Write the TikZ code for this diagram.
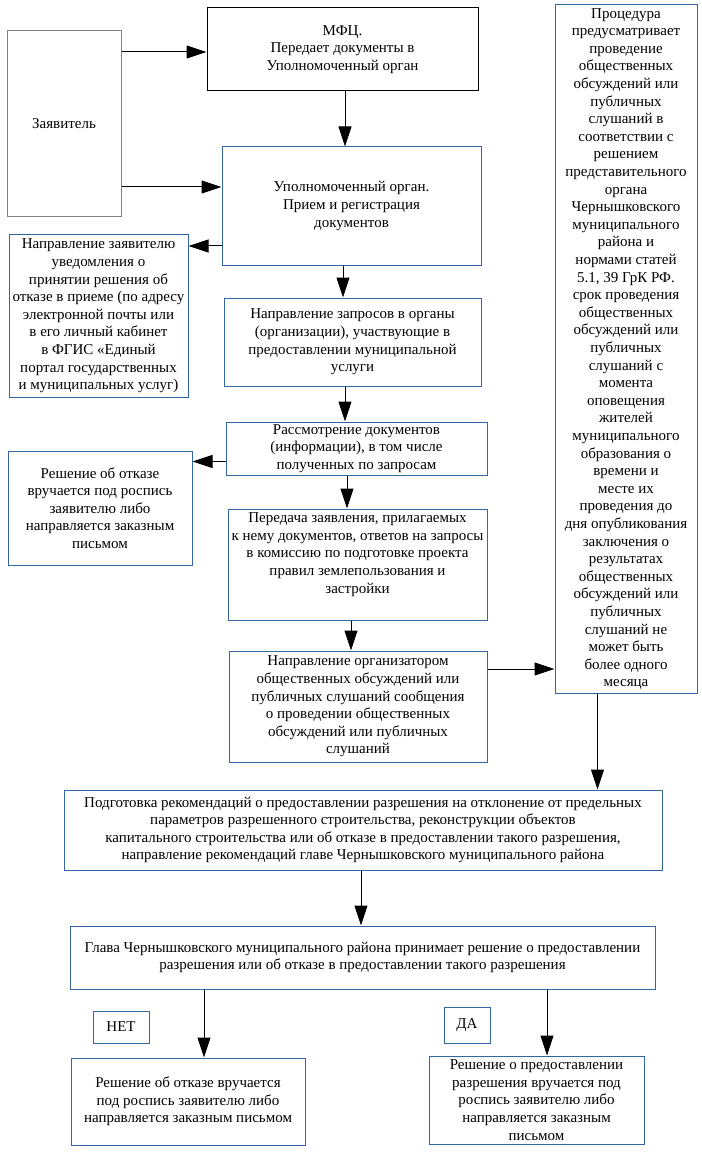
\documentclass[tikz,border=0pt]{standalone}
\usepackage{fontspec}
\setmainfont{Liberation Serif}
\usetikzlibrary{arrows.meta,calc}
\definecolor{bblue}{HTML}{3465A4}
\definecolor{bgray}{HTML}{808080}
\tikzset{
 base/.style={draw, inner sep=0pt, align=center, font=\fontsize{15pt}{17.6pt}\selectfont, line width=1pt},
 bluebox/.style={base, draw=bblue},
 blackbox/.style={base, draw=black},
 graybox/.style={base, draw=bgray},
 arr/.style={-{Triangle[length=20pt,width=13pt]}, line width=1pt},
}
\newcommand\mybox[7]{\node[#6, minimum width={(#4-#2)*1pt}, minimum height={(#5-#3)*1pt}] (#1) at ({(#2+#4)/2},{(#3+#5)/2}) {#7};}
\begin{document}
\begin{tikzpicture}[x=1pt,y=-1pt]
\useasboundingbox (0,0) rectangle (701,1158);
\mybox{zav}{7}{31}{121}{217}{graybox}{Заявитель}
\mybox{mfc}{207}{8}{478}{91}{blackbox}{МФЦ.\\Передает документы в\\Уполномоченный орган}
\mybox{upo}{222}{147}{481}{265}{bluebox}{Уполномоченный орган.\\Прием и регистрация\\документов}
\mybox{napz}{9}{235}{188}{397}{bluebox}{Направление заявителю\\уведомления о\\принятии решения об\\отказе в приеме (по адресу\\электронной почты или\\в его личный кабинет\\в ФГИС «Единый\\портал государственных\\и муниципальных услуг)}
\mybox{zap}{224}{298}{481}{386}{bluebox}{Направление запросов в органы\\(организации), участвующие в\\предоставлении муниципальной\\услуги}
\mybox{ras}{226}{422}{487}{475}{bluebox}{Рассмотрение документов\\(информации), в том числе\\полученных по запросам}
\mybox{otk}{8}{451}{192}{565}{bluebox}{Решение об отказе\\вручается под роспись\\заявителю либо\\направляется заказным\\письмом}
\mybox{per}{228}{509}{487}{620}{bluebox}{Передача заявления, прилагаемых\\к нему документов, ответов на запросы\\в комиссию по подготовке проекта\\правил землепользования и\\застройки\\\strut}
\mybox{org}{229}{651}{487}{762}{bluebox}{Направление организатором\\общественных обсуждений или\\публичных слушаний сообщения\\о проведении общественных\\обсуждений или публичных\\слушаний}
\mybox{proc}{555}{5}{697}{693}{bluebox}{Процедура\\предусматривает\\проведение\\общественных\\обсуждений или\\публичных\\слушаний в\\соответствии с\\решением\\представительного\\органа\\Чернышковского\\муниципального\\района и\\нормами статей\\5.1, 39 ГрК РФ.\\срок проведения\\общественных\\обсуждений или\\публичных\\слушаний с\\момента\\оповещения\\жителей\\муниципального\\образования о\\времени и\\месте их\\проведения до\\дня опубликования\\заключения о\\результатах\\общественных\\обсуждений или\\публичных\\слушаний не\\может быть\\более одного\\месяца}
\mybox{pod}{64}{790}{662}{870}{bluebox}{Подготовка рекомендаций о предоставлении разрешения на отклонение от предельных\\параметров разрешенного строительства, реконструкции объектов\\капитального строительства или об отказе в предоставлении такого разрешения,\\направление рекомендаций главе Чернышковского муниципального района}
\mybox{gl}{70}{926}{655}{989}{bluebox}{Глава Чернышковского муниципального района принимает решение о предоставлении\\разрешения или об отказе в предоставлении такого разрешения}
\mybox{net}{93}{1011}{149}{1043}{bluebox}{НЕТ}
\mybox{da}{444}{1007}{490}{1043}{bluebox}{ДА}
\mybox{rl}{71}{1058}{305}{1145}{bluebox}{Решение об отказе вручается\\под роспись заявителю либо\\направляется заказным письмом}
\mybox{rr}{429}{1056}{644}{1144}{bluebox}{Решение о предоставлении\\разрешения вручается под\\роспись заявителю либо\\направляется заказным\\письмом}
\coordinate (c1) at ([yshift=-2.5pt]mfc.west);
\draw[arr] (c1 -| zav.east) -- (c1);
\coordinate (c2) at ([yshift=-63pt]zav.east);
\draw[arr] (c2) -- (c2 -| upo.west);
\coordinate (c3) at ([xshift=2.5pt]mfc.south);
\draw[arr] (c3) -- (c3 |- upo.north);
\coordinate (c4) at ([yshift=-40pt]upo.west);
\draw[arr] (c4) -- (c4 -| napz.east);
\coordinate (c5) at ([xshift=-8.5pt]upo.south);
\draw[arr] (c5) -- (c5 |- zap.north);
\coordinate (c6) at ([xshift=-7.5pt]zap.south);
\draw[arr] (c6) -- (c6 |- ras.north);
\coordinate (c7) at ([yshift=-13pt]ras.west);
\draw[arr] (c7) -- (c7 -| otk.east);
\coordinate (c8) at ([xshift=-9.5pt]ras.south);
\draw[arr] (c8) -- (c8 |- per.north);
\coordinate (c9) at ([xshift=-6.5pt]per.south);
\draw[arr] (c9) -- (c9 |- org.north);
\coordinate (c10) at ([yshift=37.5pt]org.east);
\draw[arr] (c10) -- (c10 -| proc.west);
\coordinate (c11) at ([xshift=-28.5pt]proc.south);
\draw[arr] (c11) -- (c11 |- pod.north);
\coordinate (c12) at ([xshift=-2pt]pod.south);
\draw[arr] (c12) -- (c12 |- gl.north);
\coordinate (c13) at ([xshift=16pt]rl.north);
\draw[arr] (c13 |- gl.south) -- (c13);
\coordinate (c14) at ([xshift=10.5pt]rr.north);
\draw[arr] (c14 |- gl.south) -- (c14);
\end{tikzpicture}
\end{document}
